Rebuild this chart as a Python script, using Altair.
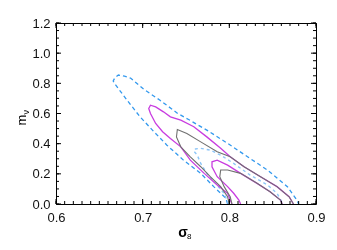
import altair as alt
import pandas as pd

# ---- contour curves (sigma_8, m_nu) ----
blue_x = [0.798, 0.796, 0.782, 0.767, 0.747, 0.728, 0.713, 0.697, 0.682, 0.669, 0.666, 0.668, 0.672,
          0.679, 0.686, 0.701, 0.720, 0.740, 0.753, 0.774, 0.798, 0.821, 0.844, 0.867, 0.878, 0.880]
blue_y = [0.000, 0.038, 0.115, 0.203, 0.291, 0.390, 0.479, 0.578, 0.688, 0.788, 0.815, 0.838, 0.855,
          0.848, 0.835, 0.762, 0.688, 0.602, 0.560, 0.490, 0.402, 0.313, 0.225, 0.115, 0.026, 0.000]

lblue_x = [0.799, 0.794, 0.784, 0.774, 0.767, 0.763, 0.759, 0.761, 0.767, 0.778, 0.790, 0.805,
           0.824, 0.844, 0.855, 0.862]
lblue_y = [0.000, 0.071, 0.137, 0.203, 0.269, 0.324, 0.350, 0.365, 0.369, 0.357, 0.324, 0.269,
           0.192, 0.126, 0.071, 0.000]

mag_x = [0.803, 0.798, 0.786, 0.771, 0.755, 0.744, 0.732, 0.723, 0.715, 0.709, 0.707, 0.709, 0.715,
         0.724, 0.732, 0.744, 0.759, 0.774, 0.790, 0.801, 0.817, 0.836, 0.855, 0.869, 0.874]
mag_y = [0.000, 0.071, 0.126, 0.203, 0.291, 0.379, 0.435, 0.479, 0.534, 0.600, 0.633, 0.655, 0.644,
         0.611, 0.578, 0.556, 0.512, 0.445, 0.369, 0.313, 0.247, 0.181, 0.115, 0.048, 0.000]

magn_x = [0.813, 0.811, 0.805, 0.798, 0.786, 0.780, 0.780, 0.786, 0.798, 0.813, 0.832, 0.847, 0.859, 0.861]
magn_y = [0.000, 0.026, 0.071, 0.115, 0.181, 0.247, 0.280, 0.291, 0.258, 0.203, 0.137, 0.081, 0.026, 0.000]

gray_x = [0.800, 0.798, 0.790, 0.778, 0.767, 0.755, 0.744, 0.739, 0.740, 0.751, 0.767, 0.786, 0.801,
          0.817, 0.836, 0.855, 0.869, 0.874]
gray_y = [0.000, 0.048, 0.115, 0.181, 0.247, 0.313, 0.379, 0.445, 0.494, 0.468, 0.412, 0.346, 0.313,
          0.247, 0.181, 0.115, 0.048, 0.000]

grayn_x = [0.803, 0.801, 0.794, 0.789, 0.790, 0.798, 0.813, 0.832, 0.847, 0.859, 0.861]
grayn_y = [0.000, 0.048, 0.115, 0.181, 0.225, 0.225, 0.203, 0.137, 0.081, 0.026, 0.000]

# ---- axes ----
x_major = [0.6, 0.7, 0.8, 0.9]
y_major = [0.0, 0.2, 0.4, 0.6, 0.8, 1.0, 1.2]
x_minor = [round(0.6 + 0.01 * i, 2) for i in range(31)]
y_minor = [round(0.05 * i, 2) for i in range(25)]

W, H = 260, 181
FONT = "Liberation Sans"

xs = alt.Scale(domain=[0.6, 0.9], nice=False, zero=False)
ys = alt.Scale(domain=[0.0, 1.2], nice=False, zero=False)
x_axis = alt.Axis(values=x_major, format=".1f", ticks=False, domain=False, grid=False, title=None,
                  labelFlush=False, labelPadding=7, labelFont=FONT, labelFontSize=13,
                  labelColor="#111")
y_axis = alt.Axis(values=y_major, format=".1f", ticks=False, domain=False, grid=False, title=None,
                  labelPadding=6, labelFont=FONT, labelFontSize=13, labelColor="#111")


def X(f):
    return alt.X(f, scale=xs, axis=x_axis)


def Y(f):
    return alt.Y(f, scale=ys, axis=y_axis)


def curve(xv, yv, name):
    return pd.DataFrame({"x": xv, "y": yv, "c": name, "o": range(len(xv))})


def line(df, color, dash=None, blend=None, width=1.3):
    kw = dict(color=color, strokeWidth=width, clip=True)
    if dash:
        kw["strokeDash"] = dash
    if blend:
        kw["blend"] = blend
    return alt.Chart(df).mark_line(**kw).encode(x=X("x:Q"), y=Y("y:Q"), detail="c:N", order="o:Q")


blue = line(curve(blue_x, blue_y, "b"), "#3399ee", dash=[4, 3])
lblue = line(curve(lblue_x, lblue_y, "lb"), "#8ec6f8", dash=[3, 3], width=1.4)
mag = line(pd.concat([curve(mag_x, mag_y, "m"), curve(magn_x, magn_y, "mn")]), "#c83ce0")
gray = line(pd.concat([curve(gray_x, gray_y, "g"), curve(grayn_x, grayn_y, "gn")]), "#707070",
            blend="multiply", width=1.1)


def xticks(vals, size):
    d = pd.DataFrame({"v": vals})
    bot = alt.Chart(d).mark_rule(color="black", strokeWidth=1).encode(
        x=X("v:Q"), y=alt.value(H), y2=alt.value(H - size))
    top = alt.Chart(d).mark_rule(color="black", strokeWidth=1).encode(
        x=X("v:Q"), y=alt.value(0), y2=alt.value(size))
    return bot + top


def yticks(vals, size):
    d = pd.DataFrame({"v": vals})
    left = alt.Chart(d).mark_rule(color="black", strokeWidth=1).encode(
        y=Y("v:Q"), x=alt.value(0), x2=alt.value(size))
    right = alt.Chart(d).mark_rule(color="black", strokeWidth=1).encode(
        y=Y("v:Q"), x=alt.value(W), x2=alt.value(W - size))
    return left + right


one = pd.DataFrame({"t": [""]})
sig = alt.Chart(one).mark_text(text="σ", font=FONT, fontSize=14, fontWeight="bold", align="center",
                               baseline="alphabetic", color="black").encode(
    x=alt.value(127), y=alt.value(213.5))
sig8 = alt.Chart(one).mark_text(text="8", font=FONT, fontSize=8, align="left",
                                baseline="alphabetic", color="black").encode(
    x=alt.value(131), y=alt.value(215.5))
m_t = alt.Chart(one).mark_text(text="m", font=FONT, fontSize=13, angle=270, align="center",
                               baseline="alphabetic", color="black").encode(
    x=alt.value(-30), y=alt.value(97))
nu_t = alt.Chart(one).mark_text(text="ν", font=FONT, fontSize=9, angle=270, align="left",
                                baseline="alphabetic", color="black").encode(
    x=alt.value(-27.5), y=alt.value(91.5))

chart = alt.layer(
    blue, lblue, mag, gray,
    xticks(x_minor, 3), xticks(x_major, 5), yticks(y_minor, 3), yticks(y_major, 5),
    sig, sig8, m_t, nu_t,
).properties(
    width=W, height=H,
    autosize=alt.AutoSizeParams(type="none"),
    padding={"left": 48, "top": 15, "right": 13, "bottom": 38},
).configure_view(stroke="black", strokeWidth=1)

chart.save("out.html", embed_options={"renderer": "svg", "actions": False})
